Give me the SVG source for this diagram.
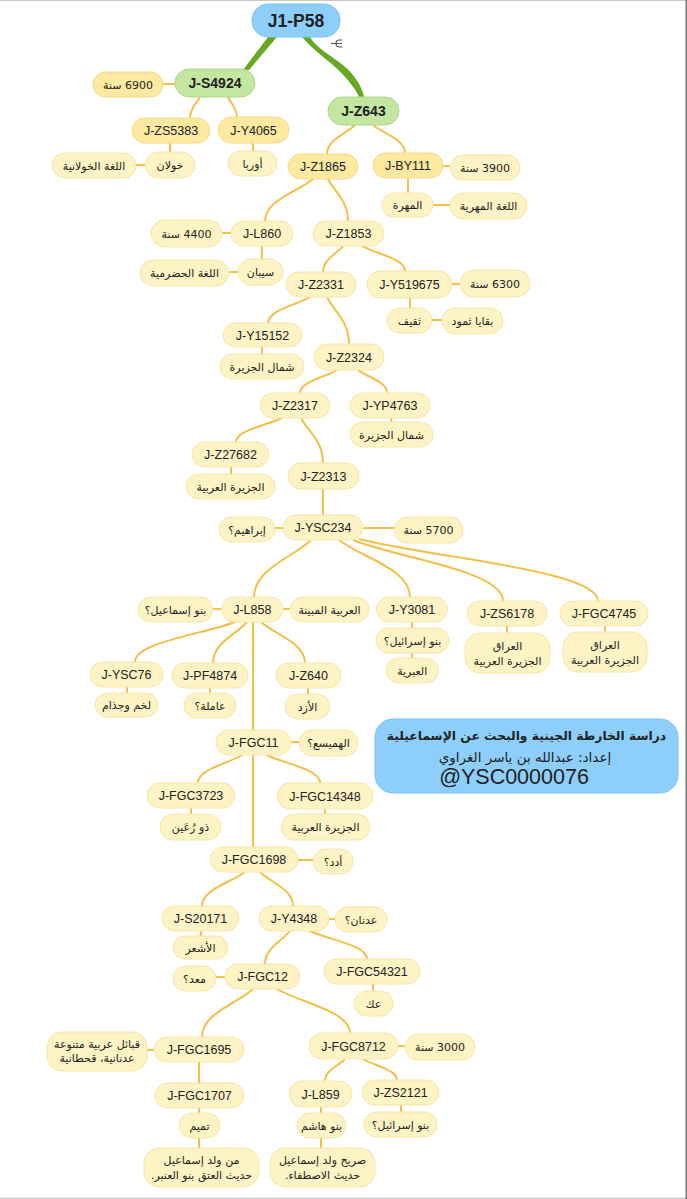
<svg xmlns="http://www.w3.org/2000/svg" width="687" height="1199" viewBox="0 0 687 1199">
<style>
.n rect{fill:#fef3c4;stroke:#f8e6a8;stroke-width:1}
.n2 rect{fill:#fde99f;stroke:#f6dc88;stroke-width:1}
.g rect{fill:#c3e6a0;stroke:#add889;stroke-width:1}
.b rect{fill:#8ecefb;stroke:#7bc2f4;stroke-width:1}
text{font-family:"Liberation Sans","DejaVu Sans",sans-serif;fill:#222;text-anchor:middle}
.t{font-size:12.5px}
.a{font-family:"DejaVu Sans","Liberation Sans",sans-serif;font-size:11px;direction:rtl}
.gt{font-size:14px;font-weight:bold}
.c path{fill:none;stroke:#f5bf48;stroke-width:2}
.c .r{fill:#68a824;stroke:none}
</style>
<rect x="0" y="0" width="687" height="1" fill="#c8c8c8"/>
<rect x="0" y="1197.5" width="687" height="1.5" fill="#cfcfcf"/>
<rect x="685.5" y="0" width="1.5" height="1199" fill="#777"/>
<g id="connectors" class="c">
<path class="r" d="M268,37 L243,70 L249,70 L277,37 Z"/>
<path class="r" d="M302,37 C315,52 328,60 335,67 C347,78 355,88 359,97 L364,97 C362,86 354,74 344,66 C332,56 316,48 310,37 Z"/>
<path d="M163,84H175M136,165H145M443,166H450M433,205H450M222,233H231M229,272H238M452,284H460M432,320H442M275,528H283M363,528H394M213,609H221.5M283,609H290M291,742H299M298,860H313M329,919H335M216,977H225M147,1050H154M398,1046H405"/>
<path d="M170,143V152M253,143V151M408,178V193M262,246V259M410,298V308M262,347V354M391,418V422M231,467V474M323,489V515M412,622V628M412,653V658M507,626V633M605,626V632M127,687V693M210,688V693M308,688V694M253,622V730M191,808V814M325,809V814M253,755V847M201,931V936M373,984V991M199,1062V1083M199,1108V1113M199,1138V1148M321,1107V1113M321,1138V1148M401,1105V1112"/>
<path d="M200,97 C197,103.3 190,107.5 190,118"/>
<path d="M228,97 C230.7,103.3 237,107.5 237,118"/>
<path d="M355,125 C346.6,133.7 327,139.5 327,154"/>
<path d="M373,125 C382.6,133.4 405,139 405,153"/>
<path d="M313,179 C298.6,191.6 265,200 265,221"/>
<path d="M328,179 C334,191.6 348,200 348,221"/>
<path d="M343,246 C337,253.8 323,259 323,272"/>
<path d="M362,246 C374.9,253.5 405,258.5 405,271"/>
<path d="M310,297 C297.4,304.8 268,310 268,323"/>
<path d="M327,297 C333.6,311.1 349,320.5 349,344"/>
<path d="M337,370 C325.9,376.9 300,381.5 300,393"/>
<path d="M358,370 C366.7,376.9 387,381.5 387,393"/>
<path d="M282,418 C268.2,425.2 236,430 236,442"/>
<path d="M301,418 C307.6,431.5 323,440.5 323,463"/>
<path d="M311,540 C293.9,557.1 254,568.5 254,597"/>
<path d="M339,540 C360.3,557.1 410,568.5 410,597"/>
<path d="M353,540 C398,558.3 503,570.5 503,601"/>
<path d="M359,539 C430.7,557.6 598,570 598,601"/>
<path d="M235,622 C205,634 135,642 135,662"/>
<path d="M247,622 C236.8,634.3 213,642.5 213,663"/>
<path d="M261,622 C274.2,634.3 305,642.5 305,663"/>
<path d="M242,755 C228.8,763.4 198,769 198,783"/>
<path d="M267,755 C282.9,763.4 320,769 320,783"/>
<path d="M245,872 C232.1,882.2 202,889 202,906"/>
<path d="M260,872 C269.9,882.2 293,889 293,906"/>
<path d="M290,931 C282.5,940.9 265,947.5 265,964"/>
<path d="M310,931 C327.1,939.4 367,945 367,959"/>
<path d="M253,989 C237.7,1003.4 202,1013 202,1037"/>
<path d="M277,989 C298.9,1002.2 350,1011 350,1033"/>
<path d="M345,1059 C339,1065.6 325,1070 325,1081"/>
<path d="M363,1059 C373.2,1065.3 397,1069.5 397,1080"/>
</g>
<path d="M331,43.5H336M342.5,40H339.5A3.5,3.5 0 0 0 339.5,47H342.5M336,43.5H342" fill="none" stroke="#555" stroke-width="1.2"/>
<g id="n-root" class="b"><rect x="252" y="4" width="88" height="33" rx="16"/><text x="296" y="27" style="font-size:17.5px;font-weight:bold">J1-P58</text></g>
<g id="n-S4924" class="g"><rect x="175" y="69" width="80" height="28" rx="14"/><text class="gt" x="215" y="88">J-S4924</text></g>
<g id="n-6900" class="n2"><rect x="93" y="72" width="70" height="25" rx="12.5"/><text class="a" x="128" y="88.5">6900 سنة</text></g>
<g id="n-ZS5383" class="n2"><rect x="132" y="118" width="78" height="25" rx="12.5"/><text class="t" x="171" y="135">J-ZS5383</text></g>
<g id="n-Y4065" class="n2"><rect x="218" y="117" width="71" height="26" rx="13"/><text class="t" x="253.5" y="134.5">J-Y4065</text></g>
<g id="n-khawlan" class="n"><rect x="145" y="152" width="50" height="26" rx="13"/><text class="a" x="170" y="169">خولان</text></g>
<g id="n-khawlan-lang" class="n"><rect x="52" y="153" width="84" height="25" rx="12.5"/><text class="a" x="94" y="169.5">اللغة الخولانية</text></g>
<g id="n-europe" class="n"><rect x="228" y="151" width="49" height="25" rx="12.5"/><text class="a" x="252.5" y="167.5">أوربا</text></g>
<g id="n-Z643" class="g"><rect x="328" y="97" width="71" height="28" rx="14"/><text class="gt" x="363.5" y="116">J-Z643</text></g>
<g id="n-Z1865" class="n2"><rect x="288" y="154" width="70" height="25" rx="12.5"/><text class="t" x="323" y="171">J-Z1865</text></g>
<g id="n-BY111" class="n2"><rect x="373" y="153" width="70" height="25" rx="12.5"/><text class="t" x="408" y="170">J-BY111</text></g>
<g id="n-3900" class="n"><rect x="450" y="155" width="70" height="25" rx="12.5"/><text class="a" x="485" y="171.5">3900 سنة</text></g>
<g id="n-mahra" class="n"><rect x="382" y="193" width="51" height="24" rx="12"/><text class="a" x="407.5" y="209">المهرة</text></g>
<g id="n-mahra-lang" class="n"><rect x="450" y="193" width="77" height="26" rx="13"/><text class="a" x="488.5" y="210">اللغة المهرية</text></g>
<g id="n-L860" class="n"><rect x="231" y="221" width="62" height="25" rx="12.5"/><text class="t" x="262" y="238">J-L860</text></g>
<g id="n-4400" class="n"><rect x="151" y="220" width="71" height="27" rx="13.5"/><text class="a" x="186.5" y="237.5">4400 سنة</text></g>
<g id="n-Z1853" class="n"><rect x="313" y="221" width="71" height="25" rx="12.5"/><text class="t" x="348.5" y="238">J-Z1853</text></g>
<g id="n-sayban" class="n"><rect x="238" y="259" width="45" height="26" rx="13"/><text class="a" x="260.5" y="276">سيبان</text></g>
<g id="n-hadrami" class="n"><rect x="140" y="260" width="89" height="26" rx="13"/><text class="a" x="184.5" y="277">اللغة الحضرمية</text></g>
<g id="n-Z2331" class="n"><rect x="286" y="272" width="70" height="25" rx="12.5"/><text class="t" x="321" y="289">J-Z2331</text></g>
<g id="n-Y519675" class="n"><rect x="367" y="271" width="85" height="27" rx="13.5"/><text class="t" x="409.5" y="289">J-Y519675</text></g>
<g id="n-6300" class="n"><rect x="460" y="270" width="70" height="27" rx="13.5"/><text class="a" x="495" y="287.5">6300 سنة</text></g>
<g id="n-thaqif" class="n"><rect x="387" y="308" width="45" height="25" rx="12.5"/><text class="a" x="409.5" y="324.5">ثقيف</text></g>
<g id="n-thamud" class="n"><rect x="442" y="308" width="61" height="26" rx="13"/><text class="a" x="472.5" y="325">بقايا ثمود</text></g>
<g id="n-Y15152" class="n"><rect x="223" y="323" width="79" height="24" rx="12"/><text class="t" x="262.5" y="339.5">J-Y15152</text></g>
<g id="n-north1" class="n"><rect x="220" y="354" width="84" height="25" rx="12.5"/><text class="a" x="262" y="370.5">شمال الجزيرة</text></g>
<g id="n-Z2324" class="n"><rect x="314" y="344" width="70" height="26" rx="13"/><text class="t" x="349" y="361.5">J-Z2324</text></g>
<g id="n-Z2317" class="n"><rect x="260" y="393" width="70" height="25" rx="12.5"/><text class="t" x="295" y="410">J-Z2317</text></g>
<g id="n-YP4763" class="n"><rect x="350" y="393" width="80" height="25" rx="12.5"/><text class="t" x="390" y="410">J-YP4763</text></g>
<g id="n-north2" class="n"><rect x="350" y="422" width="83" height="25" rx="12.5"/><text class="a" x="391.5" y="438.5">شمال الجزيرة</text></g>
<g id="n-Z27682" class="n"><rect x="192" y="442" width="77" height="25" rx="12.5"/><text class="t" x="230.5" y="459">J-Z27682</text></g>
<g id="n-arabia1" class="n"><rect x="186" y="474" width="89" height="25" rx="12.5"/><text class="a" x="230.5" y="490.5">الجزيرة العربية</text></g>
<g id="n-Z2313" class="n"><rect x="288" y="463" width="71" height="26" rx="13"/><text class="t" x="323.5" y="480.5">J-Z2313</text></g>
<g id="n-YSC234" class="n"><rect x="283" y="515" width="80" height="25" rx="12.5"/><text class="t" x="323" y="532">J-YSC234</text></g>
<g id="n-ibrahim" class="n"><rect x="219" y="517" width="56" height="25" rx="12.5"/><text class="a" x="247" y="533.5">إبراهيم؟</text></g>
<g id="n-5700" class="n"><rect x="394" y="517" width="69" height="26" rx="13"/><text class="a" x="428.5" y="534">5700 سنة</text></g>
<g id="n-L858" class="n"><rect x="221.5" y="597" width="61.5" height="25" rx="12.5"/><text class="t" x="252.3" y="614">J-L858</text></g>
<g id="n-ismail1" class="n"><rect x="138" y="597" width="75" height="25" rx="12.5"/><text class="a" x="175.5" y="613.5">بنو إسماعيل؟</text></g>
<g id="n-mubina" class="n"><rect x="290" y="597" width="79" height="25" rx="12.5"/><text class="a" x="329.5" y="613.5">العربية المبينة</text></g>
<g id="n-Y3081" class="n"><rect x="376.5" y="597" width="71" height="25" rx="12.5"/><text class="t" x="412" y="614">J-Y3081</text></g>
<g id="n-israil1" class="n"><rect x="376" y="628" width="73" height="25" rx="12.5"/><text class="a" x="412.5" y="644.5">بنو إسرائيل؟</text></g>
<g id="n-hebrew" class="n"><rect x="386" y="658" width="52.5" height="25" rx="12.5"/><text class="a" x="412.2" y="674.5">العبرية</text></g>
<g id="n-ZS6178" class="n"><rect x="467" y="601" width="80" height="25" rx="12.5"/><text class="t" x="507" y="618">J-ZS6178</text></g>
<g id="n-iraq1" class="n"><rect x="465" y="633" width="85" height="40" rx="15"/><text class="a" x="507.5" y="650">العراق</text><text class="a" x="507.5" y="665">الجزيرة العربية</text></g>
<g id="n-FGC4745" class="n"><rect x="560" y="601" width="88" height="25" rx="12.5"/><text class="t" x="604" y="618">J-FGC4745</text></g>
<g id="n-iraq2" class="n"><rect x="563" y="632" width="84" height="40" rx="15"/><text class="a" x="605" y="649">العراق</text><text class="a" x="605" y="664">الجزيرة العربية</text></g>
<g id="n-YSC76" class="n"><rect x="90" y="662" width="73" height="25" rx="12.5"/><text class="t" x="126.5" y="679">J-YSC76</text></g>
<g id="n-lakhm" class="n"><rect x="95" y="693" width="63" height="24" rx="12"/><text class="a" x="126.5" y="709">لخم وجذام</text></g>
<g id="n-PF4874" class="n"><rect x="172" y="663" width="76" height="25" rx="12.5"/><text class="t" x="210" y="680">J-PF4874</text></g>
<g id="n-amila" class="n"><rect x="184" y="693" width="52" height="25" rx="12.5"/><text class="a" x="210" y="709.5">عاملة؟</text></g>
<g id="n-Z640" class="n"><rect x="276" y="663" width="65" height="25" rx="12.5"/><text class="t" x="308.5" y="680">J-Z640</text></g>
<g id="n-azd" class="n"><rect x="285" y="694" width="45" height="25" rx="12.5"/><text class="a" x="307.5" y="710.5">الأزد</text></g>
<g id="n-FGC11" class="n"><rect x="216" y="730" width="75" height="25" rx="12.5"/><text class="t" x="253.5" y="747">J-FGC11</text></g>
<g id="n-hamaysa" class="n"><rect x="299" y="730" width="59" height="26" rx="13"/><text class="a" x="328.5" y="747">الهميسع؟</text></g>
<g id="n-FGC3723" class="n"><rect x="147" y="783" width="88" height="25" rx="12.5"/><text class="t" x="191" y="800">J-FGC3723</text></g>
<g id="n-ruayn" class="n"><rect x="160" y="814" width="61" height="26" rx="13"/><text class="a" x="190.5" y="831">ذو رُعَين</text></g>
<g id="n-FGC14348" class="n"><rect x="277" y="783" width="96" height="26" rx="13"/><text class="t" x="325" y="800.5">J-FGC14348</text></g>
<g id="n-arabia2" class="n"><rect x="281" y="814" width="89" height="26" rx="13"/><text class="a" x="325.5" y="831">الجزيرة العربية</text></g>
<g id="n-title" class="b"><rect x="375" y="719" width="303" height="74" rx="18"/><text x="526.5" y="740" style="font-family:'DejaVu Sans',sans-serif;font-size:12.3px;font-weight:bold;direction:rtl">دراسة الخارطة الجينية والبحث عن الإسماعيلية</text><text x="525" y="762" style="font-family:'DejaVu Sans',sans-serif;font-size:13.5px;direction:rtl">إعداد: عبدالله بن ياسر الغراوي</text><text x="514" y="784" style="font-size:21.5px">@YSC0000076</text></g>
<g id="n-FGC1698" class="n"><rect x="210" y="847" width="88" height="25" rx="12.5"/><text class="t" x="254" y="864">J-FGC1698</text></g>
<g id="n-udad" class="n"><rect x="313" y="849" width="40" height="25" rx="12.5"/><text class="a" x="333" y="865.5">أدد؟</text></g>
<g id="n-S20171" class="n"><rect x="162" y="906" width="77" height="25" rx="12.5"/><text class="t" x="200.5" y="923">J-S20171</text></g>
<g id="n-Y4348" class="n"><rect x="259" y="906" width="70" height="25" rx="12.5"/><text class="t" x="294" y="923">J-Y4348</text></g>
<g id="n-adnan" class="n"><rect x="335" y="907" width="52" height="25" rx="12.5"/><text class="a" x="361" y="923.5">عدنان؟</text></g>
<g id="n-ashar" class="n"><rect x="173" y="936" width="55" height="23" rx="11.5"/><text class="a" x="200.5" y="951.5">الأشعر</text></g>
<g id="n-FGC12" class="n"><rect x="225" y="964" width="75" height="25" rx="12.5"/><text class="t" x="262.5" y="981">J-FGC12</text></g>
<g id="n-maad" class="n"><rect x="173" y="966" width="43" height="25" rx="12.5"/><text class="a" x="194.5" y="982.5">معد؟</text></g>
<g id="n-FGC54321" class="n"><rect x="324" y="959" width="96" height="25" rx="12.5"/><text class="t" x="372" y="976">J-FGC54321</text></g>
<g id="n-akk" class="n"><rect x="354" y="991" width="39" height="25" rx="12.5"/><text class="a" x="373.5" y="1007.5">عك</text></g>
<g id="n-qabail" class="n"><rect x="47" y="1032" width="100" height="39" rx="15"/><text class="a" x="97" y="1048">قبائل عربية متنوعة</text><text class="a" x="97" y="1062">عدنانية، قحطانية</text></g>
<g id="n-FGC1695" class="n"><rect x="154" y="1037" width="90" height="25" rx="12.5"/><text class="t" x="199" y="1054">J-FGC1695</text></g>
<g id="n-FGC8712" class="n"><rect x="309" y="1033" width="89" height="26" rx="13"/><text class="t" x="353.5" y="1050.5">J-FGC8712</text></g>
<g id="n-3000" class="n"><rect x="405" y="1034" width="70" height="26" rx="13"/><text class="a" x="440" y="1051">3000 سنة</text></g>
<g id="n-FGC1707" class="n"><rect x="155" y="1083" width="89" height="25" rx="12.5"/><text class="t" x="199.5" y="1100">J-FGC1707</text></g>
<g id="n-tamim" class="n"><rect x="179" y="1113" width="41" height="25" rx="12.5"/><text class="a" x="199.5" y="1129.5">تميم</text></g>
<g id="n-anbar" class="n"><rect x="144" y="1148" width="115" height="39" rx="15"/><text class="a" x="201.5" y="1164">من ولد إسماعيل</text><text class="a" x="201.5" y="1179">حديث العتق بنو العنبر.</text></g>
<g id="n-L859" class="n"><rect x="289" y="1081" width="63" height="26" rx="13"/><text class="t" x="320.5" y="1098.5">J-L859</text></g>
<g id="n-hashim" class="n"><rect x="297" y="1113" width="49" height="25" rx="12.5"/><text class="a" x="321.5" y="1129.5">بنو هاشم</text></g>
<g id="n-istifa" class="n"><rect x="270" y="1148" width="105" height="39" rx="15"/><text class="a" x="322.5" y="1164">صريح ولد إسماعيل</text><text class="a" x="322.5" y="1179">حديث الاصطفاء.</text></g>
<g id="n-ZS2121" class="n"><rect x="362" y="1080" width="77" height="25" rx="12.5"/><text class="t" x="400.5" y="1097">J-ZS2121</text></g>
<g id="n-israil2" class="n"><rect x="364" y="1112" width="73" height="25" rx="12.5"/><text class="a" x="400.5" y="1128.5">بنو إسرائيل؟</text></g>
</svg>
